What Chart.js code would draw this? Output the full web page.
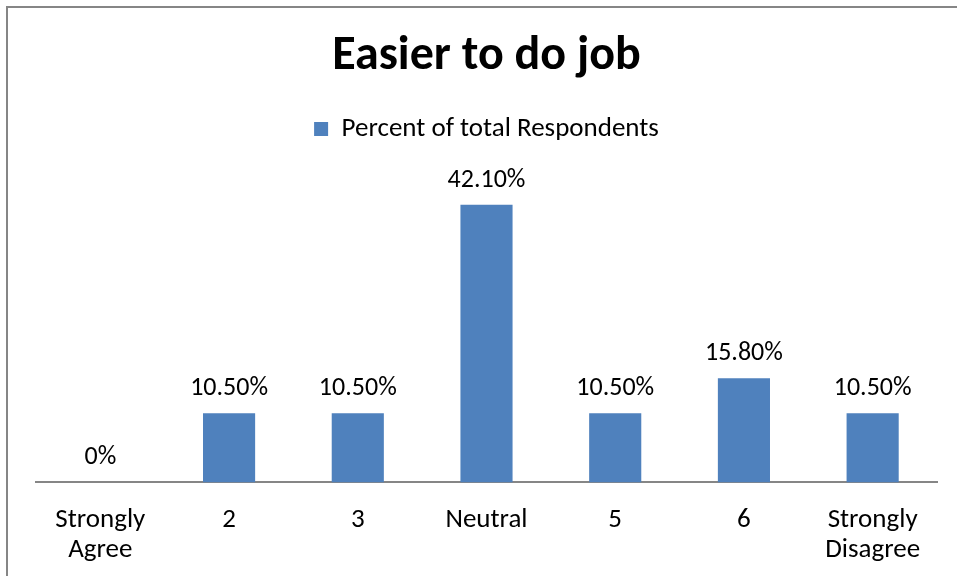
<!DOCTYPE html>
<html>
<head>
<meta charset="utf-8">
<script src="https://cdn.jsdelivr.net/npm/chart.js@4"></script>
<style>
  html, body { margin: 0; padding: 0; background: #fff; overflow: hidden; }
  #wrap { position: relative; width: 957px; height: 600px; }
  #frame {
    position: absolute; left: 6px; top: 6px; right: -10px; bottom: -10px;
    border-left: 2px solid #868686; border-top: 2px solid #868686;
  }
  canvas { position: absolute; left: 0; top: 0; }
</style>
</head>
<body>
<div id="wrap">
  <div id="frame"></div>
  <canvas id="chart" width="957" height="600"></canvas>
</div>
<script>
const categories = [['Strongly', 'Agree'], '2', '3', 'Neutral', '5', '6', ['Strongly', 'Disagree']];
const percentValues = [0, 10.5, 10.5, 42.1, 10.5, 15.8, 10.5];
const seriesName = 'Percent of total Respondents';
const chartTitle = 'Easier to do job';

const FONT = 'Carlito, Calibri, Lato, sans-serif';
const BAR_COLOR = '#4F81BD';

function formatPercent(v) {
  return v === 0 ? '0%' : v.toFixed(2) + '%';
}

// value labels above each bar
const valueLabels = {
  id: 'valueLabels',
  afterDatasetsDraw(chart) {
    const ctx = chart.ctx;
    const meta = chart.getDatasetMeta(0);
    ctx.save();
    ctx.font = '26px ' + FONT;
    ctx.fillStyle = '#000';
    ctx.textAlign = 'center';
    ctx.textBaseline = 'alphabetic';
    meta.data.forEach((bar, i) => {
      ctx.fillText(formatPercent(percentValues[i]), bar.x, bar.y - 18);
    });
    ctx.restore();
  }
};

new Chart(document.getElementById('chart'), {
  type: 'bar',
  data: {
    labels: categories,
    datasets: [{
      label: seriesName,
      data: percentValues,
      backgroundColor: BAR_COLOR,
      borderWidth: 0,
      barPercentage: 1,
      categoryPercentage: 0.405
    }]
  },
  options: {
    responsive: false,
    animation: false,
    layout: { padding: { left: 36, right: 20, top: 0, bottom: 11.5 } },
    plugins: {
      title: {
        display: true,
        text: chartTitle,
        color: '#000',
        font: { family: FONT, size: 48, weight: 'bold', lineHeight: 1.2 },
        padding: { top: 28, bottom: 20 }
      },
      legend: {
        display: true,
        position: 'top',
        labels: {
          color: '#000',
          font: { family: FONT, size: 27 },
          boxWidth: 14,
          boxHeight: 14,
          padding: 10
        }
      },
      tooltip: { enabled: false }
    },
    scales: {
      x: {
        grid: { display: false, drawTicks: false },
        border: { display: true, color: '#868686', width: 2 },
        ticks: {
          color: '#000',
          padding: 22.5,
          maxRotation: 0,
          autoSkip: false,
          font: { family: FONT, size: 27, lineHeight: 1.13 }
        }
      },
      y: {
        display: false,
        min: 0,
        max: 50
      }
    }
  },
  plugins: [valueLabels]
});
</script>
</body>
</html>
